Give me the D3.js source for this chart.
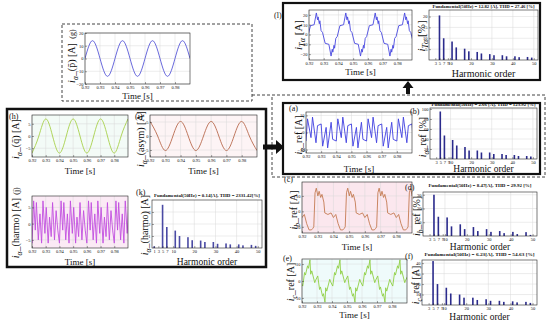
<!DOCTYPE html>
<html>
<head>
<meta charset="utf-8">
<script src="https://cdn.jsdelivr.net/npm/d3@7"></script>
<style>
  body { margin: 0; background: #fff; }
  svg { display: block; }
  text { font-family: "Liberation Serif", "DejaVu Serif", serif; fill: #111; }
</style>
</head>
<body>
<div id="chart"></div>
<script>
// ---- data ----
const timeDomain = [0.92, 0.99];
const timeTicks = [0.92, 0.93, 0.94, 0.95, 0.96, 0.97, 0.98];

// sinusoids: values at quarter-period instants
const sineTimes = [0.92, 0.925, 0.93, 0.935, 0.94, 0.945, 0.95, 0.955, 0.96, 0.965, 0.97, 0.975, 0.98, 0.985, 0.99];
const gVals = [0, 14, 0, -14, 0, 14, 0, -14, 0, 14, 0, -14, 0, 14, 0];
const hVals = [-7, 0, 7, 0, -7, 0, 7, 0, -7, 0, 7, 0, -7, 0, 7];
const iVals = [5.2, 0, -5.2, 0, 5.2, 0, -5.2, 0, 5.2, 0, -5.2, 0, 5.2, 0, -5.2];

// distorted waveforms: one 20 ms cycle of vertices [dt, value] and the cycle start times
const lCycle = [[0, -2], [0.0018, 9], [0.0043, 10], [0.0058, 22], [0.0066, 15], [0.0070, 18], [0.0078, 11], [0.0082, 14], [0.0090, 4],
  [0.0100, 2], [0.0118, -9], [0.0143, -10], [0.0158, -22], [0.0166, -15], [0.0170, -18], [0.0178, -11], [0.0182, -14], [0.0190, -4]];
const lStarts = [0.8992, 0.9192, 0.9392, 0.9592, 0.9792];

const aCycle = [[0, -5], [0.0010, 8], [0.0033, -3], [0.0043, 9], [0.0066, -6], [0.0076, 4], [0.0100, 5],
  [0.0110, -8], [0.0133, 3], [0.0143, -9], [0.0166, 6], [0.0176, -4]];
const aStarts = [0.90, 0.92, 0.94, 0.96, 0.98];

const cCycle = [[0, -10], [0.0008, 12], [0.0016, 15], [0.0026, 10], [0.0034, 13], [0.0044, 9], [0.0052, 11], [0.0064, 6], [0.0070, -1],
  [0.0090, -2], [0.0110, -1], [0.0125, -4], [0.0140, -2], [0.0155, -8], [0.0170, -12], [0.0185, -12], [0.0194, -11]];
const cStarts = [0.9075, 0.9275, 0.9475, 0.9675, 0.9875];

const eCycle = [[0, -3], [0.0012, 5], [0.0018, 3.5], [0.0032, 9], [0.0038, 7.5], [0.0048, 12.5], [0.0053, 4], [0.0060, 6], [0.0080, -1], [0.0086, 0.5],
  [0.0100, 3], [0.0112, -5], [0.0118, -3.5], [0.0132, -9], [0.0138, -7.5], [0.0148, -12.5], [0.0153, -4], [0.0160, -6], [0.0180, 1], [0.0186, -0.5]];
const eStarts = [0.9005, 0.9205, 0.9405, 0.9605, 0.9805];

const jCycle = [[0, -6], [0.0012, 7], [0.0024, -2], [0.0032, 6.5], [0.0046, -5], [0.0058, 3], [0.0070, -6], [0.0080, 7], [0.0094, -3],
  [0.0104, 5], [0.0118, -6], [0.0128, 2], [0.0140, -4], [0.0150, 6.5], [0.0164, -5], [0.0176, 4], [0.0188, -2]];
const jStarts = [0.90, 0.92, 0.94, 0.96, 0.98];

// harmonic spectra
const orderTicks = [3, 5, 7, 9, 10, 20, 30, 40, 50];
const orderTicksK = [1, 3, 5, 7, 10, 20, 30, 40, 50];
const harmOrders = [5, 7, 11, 13, 17, 19, 23, 25, 29, 31, 35, 37, 41, 43, 47, 49];
const lPct = [20.5, 10, 8.5, 5.8, 5.2, 4, 3.7, 3, 2.7, 2.2, 2.2, 1.7, 1.7, 1.3, 1.4, 1.1];
const bPct = [95, 47, 38, 27, 24, 17, 17, 13, 13, 10, 10, 8, 8, 6, 6, 5];
const dPct = [30, 14, 13.5, 7, 8.5, 5, 6.5, 3.6, 5, 3, 3.6, 2.1, 3, 1.4, 2.8, 0.8];
const fVal = [42, 20, 16.5, 11, 10, 7, 7, 4.8, 5.5, 4, 4, 3, 3.5, 2.5, 3, 2];
const kOrders = [1, 5, 7, 11, 13, 17, 19, 23, 25, 29, 31, 35, 37, 41, 43, 47, 49];
const kVal = [0.14, 3.6, 1.75, 1.45, 1.0, 0.9, 0.65, 0.62, 0.5, 0.5, 0.35, 0.38, 0.3, 0.3, 0.22, 0.26, 0.18];

// ---- drawing ----
const svg = d3.select('#chart').append('svg').attr('width', 550).attr('height', 325);
let clipId = 0;

const tile = (cycle, starts) => starts.flatMap(s => cycle.map(([dt, v]) => [s + dt, v]));

function richText(sel, parts, size) {
  let shifted = 0;
  parts.forEach(([txt, kind]) => {
    const s = sel.append('tspan').text(txt);
    const dy = kind === 's' ? size * 0.3 : 0;
    if (dy !== shifted) s.attr('dy', dy - shifted);
    shifted = dy;
    if (kind !== 'n') s.attr('font-style', 'italic');
    if (kind === 's') s.attr('font-size', size * 0.75);
  });
}

function yLabel(x, y, parts, size = 10) {
  const t = svg.append('text')
    .attr('transform', `translate(${x},${y}) rotate(-90)`)
    .attr('text-anchor', 'middle').attr('font-size', size);
  richText(t, parts, size);
}

function note(x, y, txt, size = 9, anchor = 'start') {
  svg.append('text').attr('x', x).attr('y', y).attr('font-size', size).attr('text-anchor', anchor).text(txt);
}

function styleAxis(g) {
  g.select('.domain').remove();
  g.selectAll('.tick line').attr('stroke', '#222').attr('stroke-width', 0.4);
  g.selectAll('.tick text').attr('font-size', 4.5).attr('font-family', '"Liberation Serif", serif').attr('fill', '#111');
}

function frame(g, x0, y0, x1, y1, tint) {
  g.append('rect').attr('x', x0).attr('y', y0).attr('width', x1 - x0).attr('height', y1 - y0)
    .attr('fill', tint || '#fff');
}

function grid(g, x, y, xt, yt) {
  g.append('g').selectAll('line').data(xt).join('line')
    .attr('x1', d => x(d)).attr('x2', d => x(d))
    .attr('y1', y.range()[1]).attr('y2', y.range()[0])
    .attr('stroke', '#d8d8d8').attr('stroke-width', 0.5);
  g.append('g').selectAll('line').data(yt).join('line')
    .attr('x1', x.range()[0]).attr('x2', x.range()[1])
    .attr('y1', d => y(d)).attr('y2', d => y(d))
    .attr('stroke', '#d8d8d8').attr('stroke-width', 0.5);
}

function border(g, x0, y0, x1, y1) {
  g.append('rect').attr('x', x0).attr('y', y0).attr('width', x1 - x0).attr('height', y1 - y0)
    .attr('fill', 'none').attr('stroke', '#222').attr('stroke-width', 0.6);
}

function timePanel(o) {
  const g = svg.append('g');
  const x = d3.scaleLinear(timeDomain, [o.x0, o.x1]);
  const y = d3.scaleLinear(o.yDomain, [o.y1, o.y0]);
  frame(g, o.x0, o.y0, o.x1, o.y1, o.tint);
  grid(g, x, y, timeTicks, o.yTicks);
  const id = 'clip' + (clipId++);
  g.append('clipPath').attr('id', id).append('rect')
    .attr('x', o.x0).attr('y', o.y0).attr('width', o.x1 - o.x0).attr('height', o.y1 - o.y0);
  const line = d3.line().x(d => x(d[0])).y(d => y(d[1])).curve(o.curve || d3.curveLinear);
  g.append('path').datum(o.data).attr('clip-path', `url(#${id})`)
    .attr('d', line).attr('fill', 'none').attr('stroke', o.color).attr('stroke-width', 0.9);
  border(g, o.x0, o.y0, o.x1, o.y1);
  g.append('g').attr('transform', `translate(0,${o.y1})`)
    .call(d3.axisBottom(x).tickValues(timeTicks).tickSize(-2).tickPadding(2).tickFormat(d3.format('.2f')))
    .call(styleAxis);
  g.append('g').attr('transform', `translate(${o.x0},0)`)
    .call(d3.axisLeft(y).tickValues(o.yTicks).tickSize(-2).tickPadding(1.5).tickFormat(d3.format('d')))
    .call(styleAxis);
  note((o.x0 + o.x1) / 2, o.labelY, 'Time [s]', o.labelSize || 9, 'middle');
}

function harmPanel(o) {
  const g = svg.append('g');
  const x = d3.scaleLinear([0, 52], [o.x0, o.x1]);
  const y = d3.scaleLinear([0, o.yMax], [o.y1, o.y0]);
  frame(g, o.x0, o.y0, o.x1, o.y1);
  grid(g, x, y, [10, 20, 30, 40, 50], o.yTicks);
  g.append('g').selectAll('rect').data(o.orders).join('rect')
    .attr('x', d => x(d) - 0.8).attr('width', 1.6)
    .attr('y', (d, i) => y(o.values[i])).attr('height', (d, i) => o.y1 - y(o.values[i]))
    .attr('fill', o.color || '#2b2b8c');
  border(g, o.x0, o.y0, o.x1, o.y1);
  g.append('g').attr('transform', `translate(0,${o.y1})`)
    .call(d3.axisBottom(x).tickValues(o.ticks).tickSize(-2).tickPadding(2).tickFormat(d3.format('d')))
    .call(styleAxis);
  g.append('g').attr('transform', `translate(${o.x0},0)`)
    .call(d3.axisLeft(y).tickValues(o.yTicks).tickSize(-2).tickPadding(1.5).tickFormat(d3.format('d')))
    .call(styleAxis);
  svg.append('text').attr('x', (o.x0 + o.x1) / 2).attr('y', o.titleY).attr('text-anchor', 'middle')
    .attr('font-size', 4.6).attr('font-weight', 'bold')
    .attr('textLength', o.titleW).attr('lengthAdjust', 'spacingAndGlyphs').text(o.title);
  note((o.x0 + o.x1) / 2, o.labelY, 'Harmonic order', o.labelSize || 9.5, 'middle');
}

const sine = vals => sineTimes.map((t, i) => [t, vals[i]]);

// ---- frames ----
svg.append('rect').attr('x', 62).attr('y', 24).attr('width', 190).attr('height', 77)
  .attr('fill', 'none').attr('stroke', '#444').attr('stroke-width', 1).attr('stroke-dasharray', '3,2');
svg.append('line').attr('x1', 252).attr('x2', 272).attr('y1', 95).attr('y2', 95)
  .attr('stroke', '#444').attr('stroke-width', 1).attr('stroke-dasharray', '3,2');
svg.append('rect').attr('x', 272).attr('y', 95).attr('width', 273).attr('height', 82)
  .attr('fill', 'none').attr('stroke', '#444').attr('stroke-width', 1).attr('stroke-dasharray', '3,2');
svg.append('rect').attr('x', 283).attr('y', 3).attr('width', 257).attr('height', 77)
  .attr('fill', 'none').attr('stroke', '#111').attr('stroke-width', 2.2);
svg.append('rect').attr('x', 283).attr('y', 103).attr('width', 257).attr('height', 71)
  .attr('fill', 'none').attr('stroke', '#111').attr('stroke-width', 2.2);
svg.append('rect').attr('x', 7).attr('y', 109).attr('width', 259).attr('height', 158)
  .attr('fill', 'none').attr('stroke', '#111').attr('stroke-width', 2.5);

// arrows
svg.append('path').attr('d', 'M263,144.5 H276 V140 L284,147 L276,154 V149.5 H263 Z').attr('fill', '#111');
svg.append('path').attr('d', 'M406,94 V88 H402.5 L408,81 L413.5,88 H410 V94 Z').attr('fill', '#111');

// ---- (g) ----
timePanel({ x0: 85, x1: 190, y0: 33, y1: 84, yDomain: [-20, 20], yTicks: [-20, -10, 0, 10, 20],
  data: sine(gVals), color: '#5858d8', curve: d3.curveNatural, labelY: 99 });
yLabel(75, 63, [['i', 'i'], ['α', 's'], ['_(p̄) [A]', 'n']]);
svg.append('text').attr('transform', 'translate(75,34) rotate(-90)').attr('text-anchor', 'middle').attr('font-size', 8).text('(g)');

// ---- (h) (i) (j) (k) ----
timePanel({ x0: 32, x1: 128, y0: 115, y1: 157, yDomain: [-8.6, 8.6], yTicks: [-5, 0, 5],
  data: sine(hVals), color: '#a8d04c', curve: d3.curveNatural, tint: '#f3fbf7', labelY: 174 });
yLabel(19, 139, [['i', 'i'], ['α', 's'], ['_(q̄) [A]', 'n']]);
note(9, 119, '(h)', 8);

timePanel({ x0: 150, x1: 257, y0: 115, y1: 157, yDomain: [-7.5, 7.5], yTicks: [-5, 0, 5],
  data: sine(iVals), color: '#b86a4e', curve: d3.curveNatural, tint: '#fdf4f5', labelY: 174 });
yLabel(144, 139, [['i', 'i'], ['α', 's'], ['_(asym) [A]', 'n']]);
note(135, 119, '(i)', 8);

timePanel({ x0: 32, x1: 128, y0: 196, y1: 248, yDomain: [-7.5, 8.5], yTicks: [-5, 0, 5],
  data: tile(jCycle, jStarts), color: '#c24fe0', tint: '#fbeaf5', labelY: 265 });
yLabel(19, 228, [['i', 'i'], ['α', 's'], ['_(harmo) [A]', 'n']]);
svg.append('text').attr('transform', 'translate(19,191) rotate(-90)').attr('text-anchor', 'middle').attr('font-size', 8).text('(j)');

harmPanel({ x0: 152, x1: 262, y0: 200, y1: 248, yMax: 4, yTicks: [1, 2, 3], ticks: orderTicksK,
  orders: kOrders, values: kVal, color: '#4a4aa4', titleY: 197, titleW: 106,
  title: 'Fundamental(50Hz) = 0.14[A], THD = 2331.42[%]', labelY: 265 });
yLabel(148, 225, [['i', 'i'], ['α', 's'], ['_(harmo) [A]', 'n']]);
note(136, 195, '(k)', 8);

// ---- (l) ----
timePanel({ x0: 309, x1: 412, y0: 10, y1: 60, yDomain: [-26, 25], yTicks: [-20, -10, 0, 10, 20],
  data: tile(lCycle, lStarts), color: '#4848e0', labelY: 75 });
yLabel(302, 35, [['i', 'i'], ['Tα', 's'], [' [A]', 'n']], 11);
note(274, 18, '(l)', 8);
harmPanel({ x0: 429, x1: 538, y0: 10, y1: 60, yMax: 23, yTicks: [5, 10, 15, 20], ticks: orderTicks,
  orders: harmOrders, values: lPct, titleY: 7.5, titleW: 102,
  title: 'Fundamental(50Hz) = 12.82 [A], THD = 27.46 [%]', labelY: 77, labelSize: 10 });
yLabel(425, 36, [['i', 'i'], ['Tα', 's'], [' [%]', 'n']], 11);

// ---- (a) (b) ----
timePanel({ x0: 306, x1: 412, y0: 112, y1: 153, yDomain: [-12, 12], yTicks: [-10, 0, 10],
  data: tile(aCycle, aStarts), color: '#4040e0', labelY: 172 });
yLabel(302, 135, [['i', 'i'], ['α', 's'], ['_ref [A]', 'n']]);
note(289, 111, '(a)', 8);
harmPanel({ x0: 430, x1: 537, y0: 108, y1: 159, yMax: 102, yTicks: [20, 40, 60, 80, 100], ticks: orderTicks,
  orders: harmOrders, values: bPct, titleY: 106, titleW: 104,
  title: 'Fundamental(50Hz) = 2.66 [A], THD = 123.92 [%]', labelY: 172 });
yLabel(426, 137, [['i', 'i'], ['α', 's'], ['_ref [%]', 'n']]);
note(410, 114, '(b)', 8);

// ---- (c) (d) ----
timePanel({ x0: 302, x1: 412, y0: 182, y1: 233, yDomain: [-14, 19], yTicks: [-10, 0, 10],
  data: tile(cCycle, cStarts), color: '#c47a52', tint: '#fbe7ee', labelY: 250 });
yLabel(297, 210, [['i', 'i'], ['b', 's'], ['_ref [A]', 'n']]);
note(284, 182, '(c)', 8);
harmPanel({ x0: 423, x1: 537, y0: 192, y1: 236, yMax: 32, yTicks: [10, 20, 30], ticks: orderTicks,
  orders: harmOrders, values: dPct, titleY: 187, titleW: 103,
  title: 'Fundamental(50Hz) = 8.47[A], THD = 29.92 [%]', labelY: 250 });
yLabel(420, 216, [['i', 'i'], ['b', 's'], ['_ref [%]', 'n']]);
note(405, 190, '(d)', 8);

// ---- (e) (f) ----
timePanel({ x0: 302, x1: 407, y0: 259, y1: 303, yDomain: [-13, 13], yTicks: [-10, 0, 10],
  data: tile(eCycle, eStarts), color: '#90cf44', tint: '#effbfb', labelY: 318 });
yLabel(294, 282, [['i', 'i'], ['c', 's'], ['_ref [A]', 'n']]);
note(283, 261, '(e)', 8);
harmPanel({ x0: 422, x1: 537, y0: 260, y1: 305, yMax: 43, yTicks: [10, 20, 30, 40], ticks: orderTicks,
  orders: harmOrders, values: fVal, titleY: 256, titleW: 110,
  title: 'Fundamental(50Hz) = 6.23[A], THD = 54.63 [%]', labelY: 320 });
yLabel(419, 285, [['i', 'i'], ['c', 's'], ['_ref [A]', 'n']]);
note(405, 259, '(f)', 8);
</script>
</body>
</html>
